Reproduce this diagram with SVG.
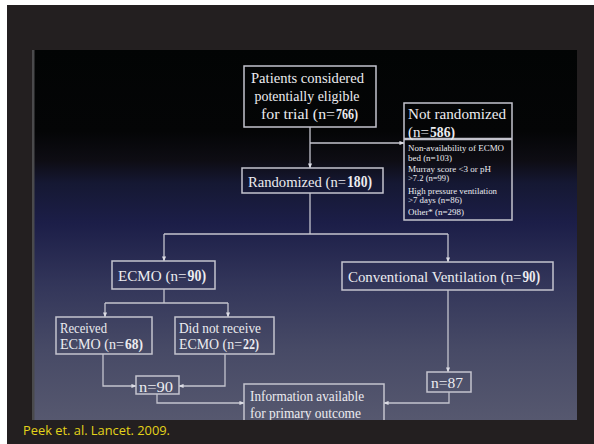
<svg xmlns="http://www.w3.org/2000/svg" width="594" height="444" viewBox="0 0 594 444">
<style>
.box{fill:none;stroke:#c4c4ce;stroke-width:1.5}
.t{font-family:"Liberation Serif","DejaVu Serif",serif;fill:#ececf0}
.s{font-size:7.5px}
.c{fill:none;stroke:#c4c4ce;stroke-width:1.3}
.b{font-weight:bold}
</style>
<defs>
<linearGradient id="bg" x1="0" y1="0" x2="0" y2="1">
<stop offset="0" stop-color="#020404"/>
<stop offset="0.22" stop-color="#040506"/>
<stop offset="0.3" stop-color="#0e0d14"/>
<stop offset="0.36" stop-color="#151833"/>
<stop offset="0.47" stop-color="#1c1e48"/>
<stop offset="0.635" stop-color="#33365a"/>
<stop offset="0.81" stop-color="#474a66"/>
<stop offset="1" stop-color="#56586f"/>
</linearGradient>
<clipPath id="slide"><rect x="32" y="50" width="545" height="370"/></clipPath>
<marker id="ah" viewBox="0 0 6 6" refX="5.5" refY="3" markerWidth="5" markerHeight="5" orient="auto" markerUnits="userSpaceOnUse">
<path d="M0,0.5 L6,3 L0,5.5 Z" fill="#dcdce4"/>
</marker>
</defs>
<rect width="594" height="444" fill="#ffffff"/>
<rect x="7" y="5" width="587" height="439" fill="#231f20"/>
<rect x="32" y="50" width="545" height="370" fill="url(#bg)"/>
<rect x="32" y="50" width="2.5" height="370" fill="#4a4a4c"/>
<g clip-path="url(#slide)">
<g id="connectors">
<path class="c" d="M310,127 V168" marker-end="url(#ah)"/>
<path class="c" d="M310,143 H404" marker-end="url(#ah)"/>
<path class="c" d="M310,193 V234"/>
<path class="c" d="M164,234 H448"/>
<path class="c" d="M164,234 V261" marker-end="url(#ah)"/>
<path class="c" d="M448,234 V262" marker-end="url(#ah)"/>
<path class="c" d="M164,289 V303"/>
<path class="c" d="M105,303 H228"/>
<path class="c" d="M105,303 V317" marker-end="url(#ah)"/>
<path class="c" d="M228,303 V317" marker-end="url(#ah)"/>
<path class="c" d="M103,354 V386 H136" marker-end="url(#ah)"/>
<path class="c" d="M225,354 V386 H179" marker-end="url(#ah)"/>
<path class="c" d="M157,394 V403 H244" marker-end="url(#ah)"/>
<path class="c" d="M448,290 V372" marker-end="url(#ah)"/>
<path class="c" d="M449,392 V403 H384" marker-end="url(#ah)"/>
</g>
<g id="eligible">
<rect class="box" x="244" y="66" width="132" height="61"/>
<text class="t" font-size="15" x="251" y="83" textLength="113" lengthAdjust="spacingAndGlyphs">Patients considered</text>
<text class="t" font-size="15" x="254.5" y="101" textLength="105" lengthAdjust="spacingAndGlyphs">potentially eligible</text>
<text class="t" font-size="15" x="261" y="119" textLength="74" lengthAdjust="spacingAndGlyphs">for trial (n=</text>
<text class="t b" font-size="15" x="336" y="119" textLength="22" lengthAdjust="spacingAndGlyphs">766)</text>
</g>
<g id="not-randomized">
<rect class="box" x="404" y="103" width="108" height="117"/>
<path d="M404,139 H512" stroke="#c4c4ce" stroke-width="2.5"/>
<text class="t" font-size="15" x="408" y="119" textLength="98" lengthAdjust="spacingAndGlyphs">Not randomized</text>
<text class="t" font-size="15" x="408" y="137" textLength="21" lengthAdjust="spacingAndGlyphs">(n=</text>
<text class="t b" font-size="15" x="430" y="137" textLength="25" lengthAdjust="spacingAndGlyphs">586)</text>
<text class="t s" x="408" y="151" textLength="96" lengthAdjust="spacingAndGlyphs">Non-availability of ECMO</text>
<text class="t s" x="408" y="161" textLength="44" lengthAdjust="spacingAndGlyphs">bed (n=103)</text>
<text class="t s" x="408" y="172" textLength="83" lengthAdjust="spacingAndGlyphs">Murray score &lt;3 or pH</text>
<text class="t s" x="408" y="181" textLength="41" lengthAdjust="spacingAndGlyphs">&gt;7.2 (n=99)</text>
<text class="t s" x="408" y="194" textLength="89" lengthAdjust="spacingAndGlyphs">High pressure ventilation</text>
<text class="t s" x="408" y="203" textLength="54" lengthAdjust="spacingAndGlyphs">&gt;7 days (n=86)</text>
<text class="t s" x="408" y="215" textLength="56" lengthAdjust="spacingAndGlyphs">Other* (n=298)</text>
</g>
<g id="randomized">
<rect class="box" x="242" y="168" width="141" height="25"/>
<text class="t" font-size="14.5" x="248" y="187" textLength="98" lengthAdjust="spacingAndGlyphs">Randomized (n=</text>
<text class="t b" font-size="16" x="347" y="187" textLength="25" lengthAdjust="spacingAndGlyphs">180)</text>
</g>
<g id="ecmo">
<rect class="box" x="112" y="261" width="103" height="28"/>
<text class="t" font-size="14.8" x="118" y="281" textLength="68.5" lengthAdjust="spacingAndGlyphs">ECMO (n=</text>
<text class="t b" font-size="16" x="187.5" y="281" textLength="18.5" lengthAdjust="spacingAndGlyphs">90)</text>
</g>
<g id="conventional">
<rect class="box" x="342" y="262" width="211" height="28"/>
<text class="t" font-size="14.6" x="348" y="282" textLength="173.5" lengthAdjust="spacingAndGlyphs">Conventional Ventilation (n=</text>
<text class="t b" font-size="16" x="522.5" y="282" textLength="17.5" lengthAdjust="spacingAndGlyphs">90)</text>
</g>
<g id="received">
<rect class="box" x="56" y="317" width="96" height="37"/>
<text class="t" font-size="14" x="60" y="333" textLength="47" lengthAdjust="spacingAndGlyphs">Received</text>
<text class="t" font-size="14" x="60" y="349" textLength="64" lengthAdjust="spacingAndGlyphs">ECMO  (n=</text>
<text class="t b" font-size="14" x="125" y="349" textLength="18" lengthAdjust="spacingAndGlyphs">68)</text>
</g>
<g id="not-received">
<rect class="box" x="175" y="317" width="99" height="37"/>
<text class="t" font-size="14" x="179" y="333" textLength="82" lengthAdjust="spacingAndGlyphs">Did not receive</text>
<text class="t" font-size="14" x="179" y="349" textLength="63" lengthAdjust="spacingAndGlyphs">ECMO (n=</text>
<text class="t b" font-size="14" x="243" y="349" textLength="16" lengthAdjust="spacingAndGlyphs">22)</text>
</g>
<g id="ecmo-total">
<rect class="box" x="136" y="376" width="43" height="18"/>
<text class="t" font-size="15" x="139" y="392" textLength="34" lengthAdjust="spacingAndGlyphs">n=90</text>
</g>
<g id="cv-total">
<rect class="box" x="427" y="372" width="44" height="20"/>
<text class="t" font-size="15" x="431" y="388" textLength="32" lengthAdjust="spacingAndGlyphs">n=87</text>
</g>
<g id="outcome">
<rect class="box" x="244" y="384" width="140" height="50"/>
<text class="t" font-size="14" x="250" y="401" textLength="114" lengthAdjust="spacingAndGlyphs">Information available</text>
<text class="t" font-size="14" x="250" y="418" textLength="111" lengthAdjust="spacingAndGlyphs">for primary outcome</text>
</g>
</g>
<text x="23" y="435" font-family="'Open Sans','Noto Sans',sans-serif" font-size="13" fill="#e3d31a" textLength="147" lengthAdjust="spacingAndGlyphs">Peek et. al. Lancet. 2009.</text>
</svg>
